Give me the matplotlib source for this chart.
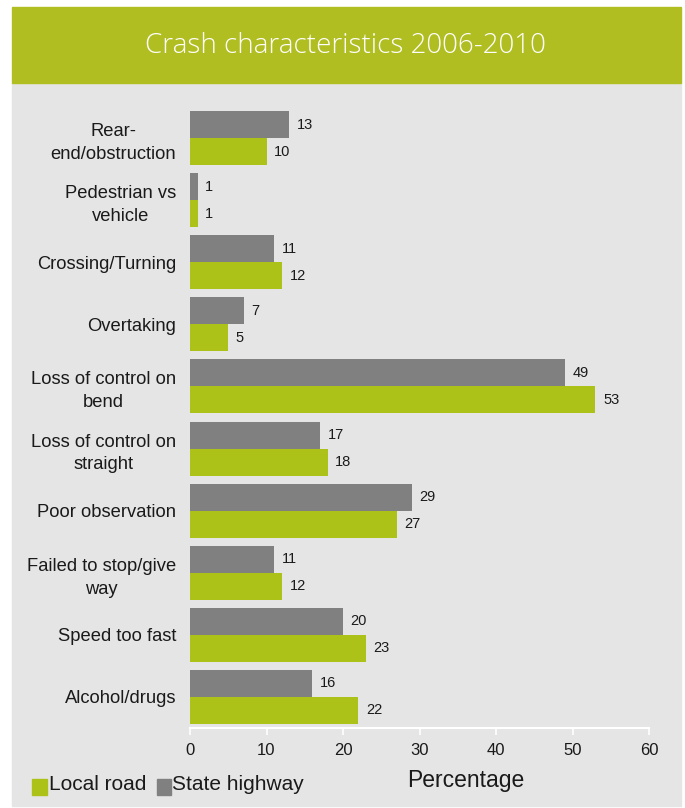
import numpy as np
import matplotlib
matplotlib.use("Agg")
import matplotlib.pyplot as plt
from matplotlib.patches import Rectangle

categories = [
    "Rear-\nend/obstruction",
    "Pedestrian vs\nvehicle",
    "Crossing/Turning",
    "Overtaking",
    "Loss of control on\nbend",
    "Loss of control on\nstraight",
    "Poor observation",
    "Failed to stop/give\nway",
    "Speed too fast",
    "Alcohol/drugs",
]
state_highway = [13, 1, 11, 7, 49, 17, 29, 11, 20, 16]
local_road = [10, 1, 12, 5, 53, 18, 27, 12, 23, 22]
xticks = [0, 10, 20, 30, 40, 50, 60]

GREEN = "#adc219"
GREY = "#808080"
PANEL = "#e5e5e5"
BAND = "#b0be21"
TEXT = "#1a1a1a"

plt.rcParams["font.family"] = ["Liberation Sans", "DejaVu Sans"]

fig = plt.figure(figsize=(6.85, 8.08), dpi=100)
W, H = 685, 808

# grey panel and title band behind everything
fig.patches.append(Rectangle((12 / W, 2 / H), 669 / W, 723 / H,
                             transform=fig.transFigure, color=PANEL, zorder=-2))
fig.patches.append(Rectangle((12 / W, (H - 83) / H), 669 / W, 76 / H,
                             transform=fig.transFigure, color=BAND, zorder=-2))
fig.text(345 / W, 1 - 46 / H, "Crash characteristics 2006-2010",
         ha="center", va="center", color="white", fontsize=20,
         family=["Open Sans", "DejaVu Sans"], fontweight="light")

ax = fig.add_axes([190 / W, 1 - 728 / H, 459 / W, 621 / H])
ax.set_facecolor("none")

y = np.arange(len(categories))
h = 0.435
ax.barh(y - h / 2, state_highway, height=h, color=GREY, zorder=2)
ax.barh(y + h / 2, local_road, height=h, color=GREEN, zorder=3)

for yi, v in zip(y, state_highway):
    ax.text(v + 1.0, yi - h / 2, str(v), va="center", ha="left",
            fontsize=10.5, color=TEXT)
for yi, v in zip(y, local_road):
    ax.text(v + 1.0, yi + h / 2, str(v), va="center", ha="left",
            fontsize=10.5, color=TEXT)

ax.set_ylim(len(categories) - 0.5, -0.5)
ax.set_xlim(0, 60)
ax.set_yticks(y)
ax.set_yticklabels(categories, ha="right", multialignment="center",
                   fontsize=13.2, color=TEXT, linespacing=1.45)
ax.tick_params(axis="y", length=0, pad=10)
ax.set_xticks(xticks)
ax.tick_params(axis="x", length=5, width=1.2, color="white", pad=6,
               labelsize=12, labelcolor=TEXT)

for side in ["top", "right", "left"]:
    ax.spines[side].set_visible(False)
ax.spines["bottom"].set_color("white")
ax.spines["bottom"].set_linewidth(1.5)

fig.text(466 / W, 1 - 781 / H, "Percentage", ha="center", va="center",
         fontsize=16.5, color=TEXT)

# legend drawn by hand: squares and labels along the bottom
fig.patches.append(Rectangle((32 / W, 1 - 795 / H), 15 / W, 16 / H,
                             transform=fig.transFigure, color=GREEN))
fig.text(49 / W, 1 - 785 / H, "Local road", ha="left", va="center",
         fontsize=15, color=TEXT)
fig.patches.append(Rectangle((157 / W, 1 - 795 / H), 14 / W, 16 / H,
                             transform=fig.transFigure, color=GREY))
fig.text(172 / W, 1 - 785 / H, "State highway", ha="left", va="center",
         fontsize=15, color=TEXT)

fig.savefig("out.png", dpi=100, facecolor="white")
